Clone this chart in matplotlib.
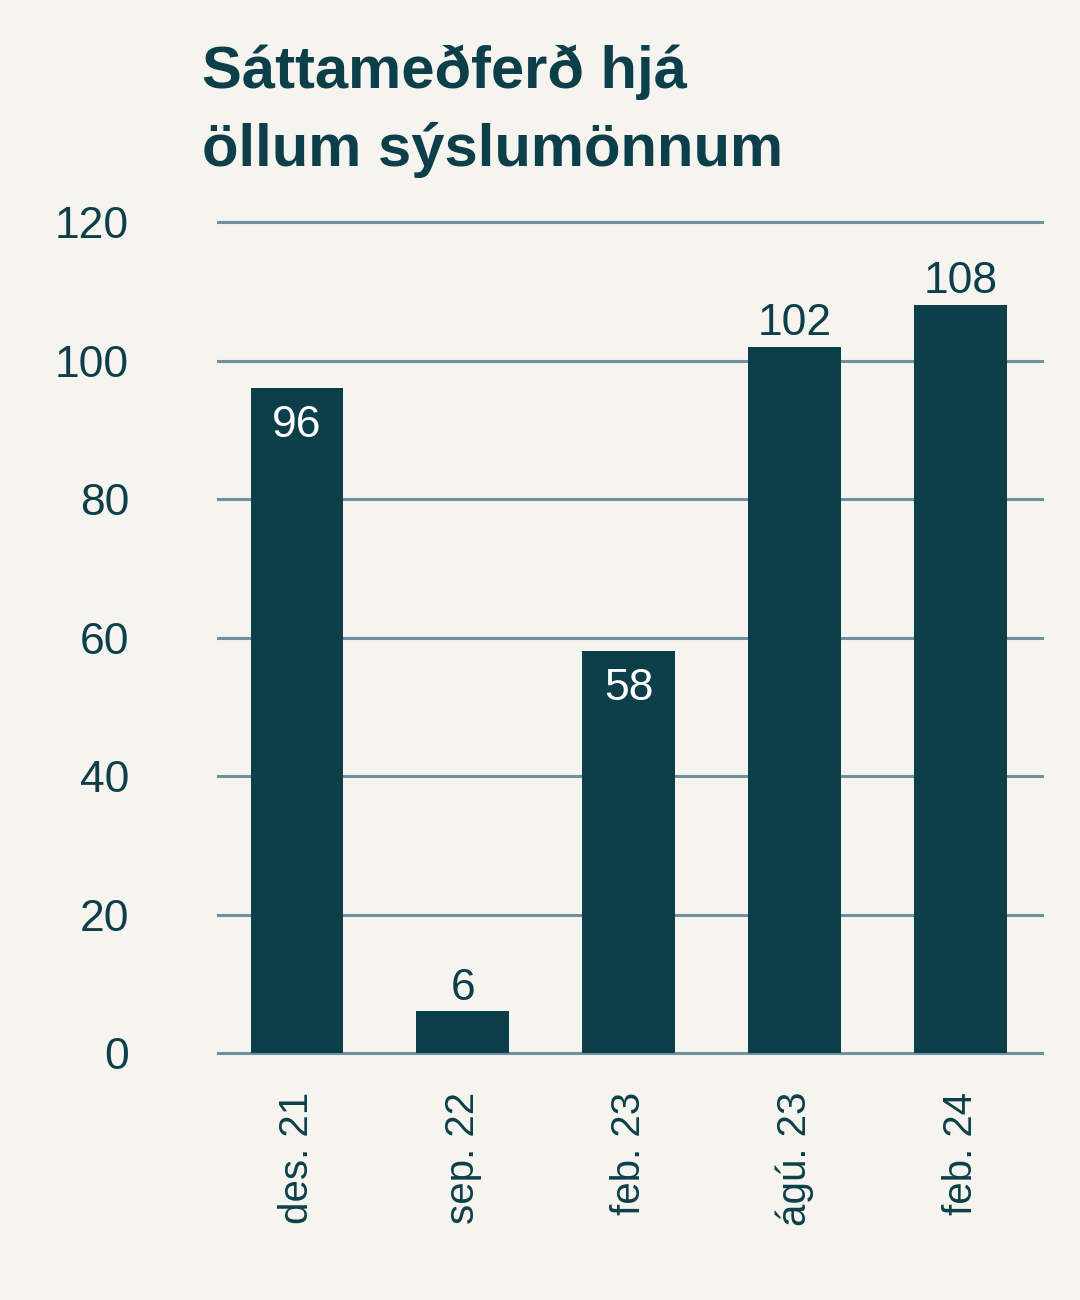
import matplotlib.pyplot as plt

# data
labels = ['des. 21', 'sep. 22', 'feb. 23', 'ágú. 23', 'feb. 24']
values = [96, 6, 58, 102, 108]
yticks = [0, 20, 40, 60, 80, 100, 120]

bg = '#f5f4ef'
dark = '#0d3f4a'
grid = '#7190a0'

plt.rcParams['font.family'] = ['Liberation Sans', 'DejaVu Sans']

fig = plt.figure(figsize=(10.8, 13), dpi=100, facecolor=bg)
ax = fig.add_axes([0.2019, 0.19, 0.7629, 0.6392], facecolor=bg)

x = list(range(len(values)))
ax.set_xlim(-0.476, 4.49)
ax.set_ylim(0, 120)

for y in yticks:
    ax.axhline(y, color=grid, lw=2.2, zorder=1, clip_on=False)

bars = ax.bar(x, values, width=0.56, color=dark, zorder=2)

# labels inside for the 1st and 3rd bars, above for the rest
inside = [True, False, True, False, False]
for xi, v, ins in zip(x, values, inside):
    if ins:
        ax.annotate(str(v), (xi, v), xytext=(0, -12), textcoords='offset points',
                    ha='center', va='top', color='white', fontsize=32, zorder=3)
    else:
        ax.annotate(str(v), (xi, v), xytext=(0, 2), textcoords='offset points',
                    ha='center', va='bottom', color=dark, fontsize=32, zorder=3)

ax.set_yticks(yticks)
ax.set_yticklabels([str(t) for t in yticks], fontsize=32, color=dark)
ax.set_xticks(x)
ax.set_xticklabels(labels, rotation=90, fontsize=29, color=dark, va='top', ha='center')
ax.tick_params(axis='y', length=0, pad=64)
ax.tick_params(axis='x', length=0, pad=28)
for s in ax.spines.values():
    s.set_visible(False)

fig.text(0.187, 0.932, 'Sáttameðferð hjá', fontsize=43, fontweight='bold',
         color=dark, va='baseline', ha='left')
fig.text(0.187, 0.872, 'öllum sýslumönnum', fontsize=43, fontweight='bold',
         color=dark, va='baseline', ha='left')

fig.savefig('out.png', dpi=100, facecolor=bg)
